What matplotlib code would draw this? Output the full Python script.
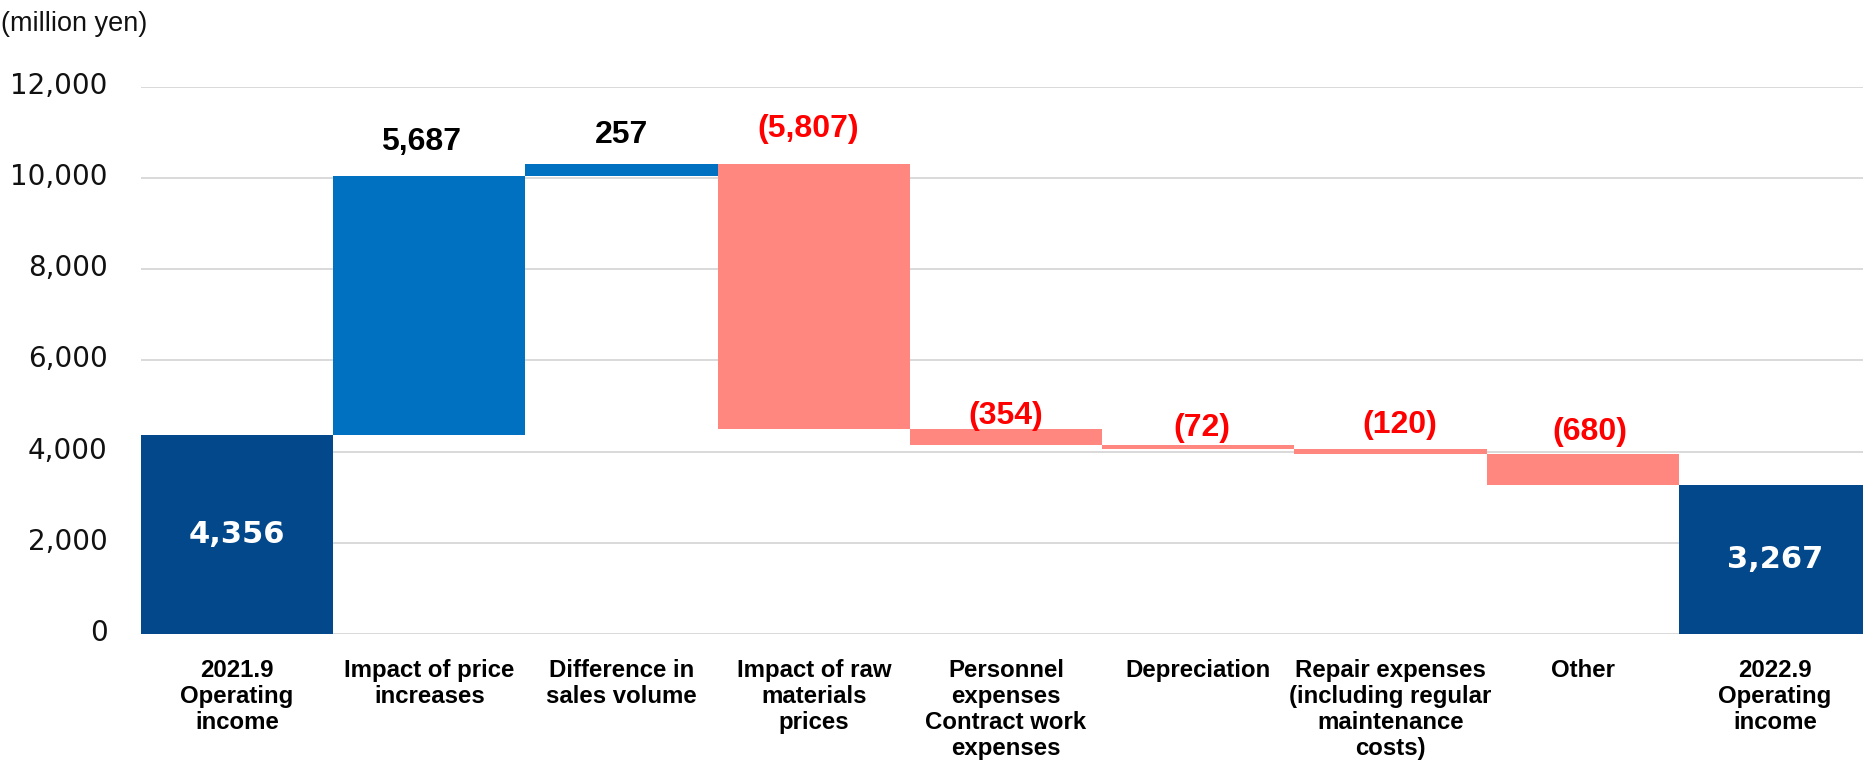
import numpy as np
import matplotlib
matplotlib.use("Agg")
import matplotlib.pyplot as plt
import matplotlib.transforms as mtransforms

# Operating income bridge (million yen)
categories = [
    "2021.9\nOperating\nincome",
    "Impact of price\nincreases",
    "Difference in\nsales volume",
    "Impact of raw\nmaterials\nprices",
    "Personnel\nexpenses\nContract work\nexpenses",
    "Depreciation",
    "Repair expenses\n(including regular\nmaintenance\ncosts)",
    "Other",
    "2022.9\nOperating\nincome",
]
start_value = 4356
changes = [5687, 257, -5807, -354, -72, -120, -680]
end_value = 3267
y_ticks = [0, 2000, 4000, 6000, 8000, 10000, 12000]

# label nudges (pixels) for the change labels
label_dy = [26, 21, 27, 5, 9, 16, 14]
label_dx = [-8, 0, -6, 0, 4, 9, 7]

TOTAL_C = "#03488b"
UP_C = "#0070c0"
DOWN_C = "#ff877f"
GRID_C = "#d9d9d9"

W, H, DPI = 1863, 760, 100
fig = plt.figure(figsize=(W / DPI, H / DPI), dpi=DPI)
ax = fig.add_axes([141 / W, (H - 634) / H, (1871 - 141) / W, (634 - 86.7) / H])

x = np.arange(len(categories))
chg = np.array(changes, dtype=float)
before = start_value + np.concatenate([[0], np.cumsum(chg)[:-1]])
after = before + chg
bottoms = np.minimum(before, after)
heights = np.abs(chg)
colors = [UP_C if c > 0 else DOWN_C for c in chg]

# totals
ax.bar([x[0], x[-1]], [start_value, end_value], width=1.0, color=TOTAL_C,
       zorder=3, linewidth=0)
# changes
ax.bar(x[1:-1], heights, bottom=bottoms, width=1.0, color=colors,
       zorder=3, linewidth=0)

for xi, v in [(x[0], start_value), (x[-1], end_value)]:
    ax.text(xi, v / 2, f"{v:,}", ha="center", va="center", color="white",
            fontsize=22, fontweight="bold", family="DejaVu Sans", zorder=4)

for i, c in enumerate(chg):
    top = max(before[i], after[i])
    txt = f"{int(c):,}" if c > 0 else f"({int(-c):,})"
    ax.annotate(txt, (x[i + 1], top), xytext=(label_dx[i], label_dy[i]),
                textcoords="offset pixels", ha="center", va="baseline",
                fontsize=23, fontweight="bold", family="Liberation Sans",
                color="black" if c > 0 else "#ff0000",
                annotation_clip=False, zorder=4)

ax.set_xlim(-0.5, len(categories) - 0.5)
ax.set_ylim(0, 12000)
ax.set_yticks(y_ticks)
ax.set_yticklabels([f"{t:,}" for t in y_ticks], fontsize=20,
                   family="DejaVu Sans", color="#111111")
ax.tick_params(axis="y", length=0, pad=24)
lift = mtransforms.ScaledTranslation(0, 4 / DPI, fig.dpi_scale_trans)
for lbl in ax.get_yticklabels():
    lbl.set_transform(lbl.get_transform() + lift)

ax.set_xticks(x)
ax.set_xticklabels(categories, fontsize=17.3, fontweight="bold",
                   family="Liberation Sans", linespacing=1.17)
ax.tick_params(axis="x", length=0, pad=18)

ax.grid(axis="y", color=GRID_C, linewidth=1.4, zorder=0)
ax.set_axisbelow(True)
for s in ax.spines.values():
    s.set_visible(False)

fig.text(1 / W, 1 - 31 / H, "(million yen)", ha="left", va="baseline",
         fontsize=19.5, family="Liberation Sans", color="#111111")

fig.savefig("out.png", dpi=DPI)
